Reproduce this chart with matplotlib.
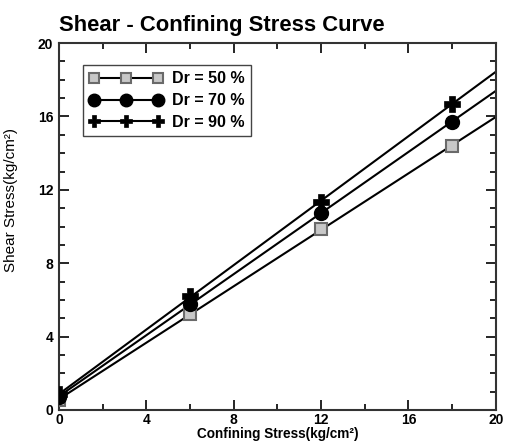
import numpy as np
import matplotlib
matplotlib.use('Agg')
import matplotlib.pyplot as plt
from matplotlib.lines import Line2D
from matplotlib.ticker import MultipleLocator

plt.rcParams['font.family'] = ['Liberation Sans', 'DejaVu Sans']

# confining stress (kg/cm2)
conf = [0, 6, 12, 18]
# shear stress (kg/cm2) for each relative density
shear_50 = [0.55, 5.25, 9.85, 14.4]
shear_70 = [0.7, 5.8, 10.75, 15.7]
shear_90 = [0.85, 6.2, 11.35, 16.7]
labels = ['Dr = 50 %', 'Dr = 70 %', 'Dr = 90 %']
ticks = [0, 4, 8, 12, 16, 20]

fig = plt.figure(figsize=(5.08, 4.41), dpi=100)
ax = fig.add_axes([0.116, 0.0703, 0.86, 0.832])

styles = [
    dict(marker='s', ms=8.5, mfc='#c8c8c8', mec='#6a6a6a', mew=1.5),
    dict(marker='o', ms=10, mfc='black', mec='black', mew=1),
    dict(marker='P', ms=11, mfc='black', mec='black', mew=0.5),
]
leg_sizes = [7, 9, 9]

xfit = np.array([0, 20])
handles = []
for y, st, lab, lsz in zip([shear_50, shear_70, shear_90], styles, labels, leg_sizes):
    k, b = np.polyfit(conf, y, 1)
    ax.plot(xfit, k * xfit + b, color='black', lw=1.5, zorder=2)
    ax.plot(conf, y, ls='none', zorder=3, **st)
    hst = dict(st, ms=lsz)
    handles.append(Line2D([], [], color='black', lw=1.5, **hst))

leg = ax.legend(handles, labels, loc='upper left', bbox_to_anchor=(0.055, 0.940),
                borderaxespad=0, numpoints=3, handlelength=4.6, handletextpad=0.6,
                borderpad=0.4, labelspacing=0.42, fancybox=False, framealpha=1,
                prop=dict(weight='bold', size=11.5))
leg.get_frame().set_edgecolor('#444444')
leg.get_frame().set_linewidth(1.0)

ax.set_xlim(0, 20)
ax.set_ylim(0, 20)
ax.set_xticks(ticks)
ax.set_yticks(ticks)
ax.xaxis.set_minor_locator(MultipleLocator(2))
ax.yaxis.set_minor_locator(MultipleLocator(1))
ax.tick_params(which='both', direction='in', top=True, right=True, width=1.2)
ax.tick_params(which='major', length=7, labelsize=10, pad=4)
ax.tick_params(axis='x', which='major', pad=2.5)
ax.tick_params(which='minor', length=4)
for t in ax.get_xticklabels() + ax.get_yticklabels():
    t.set_fontweight('bold')
for s in ax.spines.values():
    s.set_linewidth(1.5)
    s.set_color('#333333')

ax.set_xlabel('Confining Stress(kg/cm\u00b2)', fontsize=9.8, fontweight='bold', labelpad=-0.5)
ax.set_ylabel('Shear Stress(kg/cm\u00b2)', fontsize=11)
ax.yaxis.set_label_coords(-0.094, 0.572)
ax.set_title('Shear - Confining Stress Curve', loc='left', fontsize=15.8,
             fontweight='bold', pad=8.5)

fig.savefig('out.png', dpi=100)
